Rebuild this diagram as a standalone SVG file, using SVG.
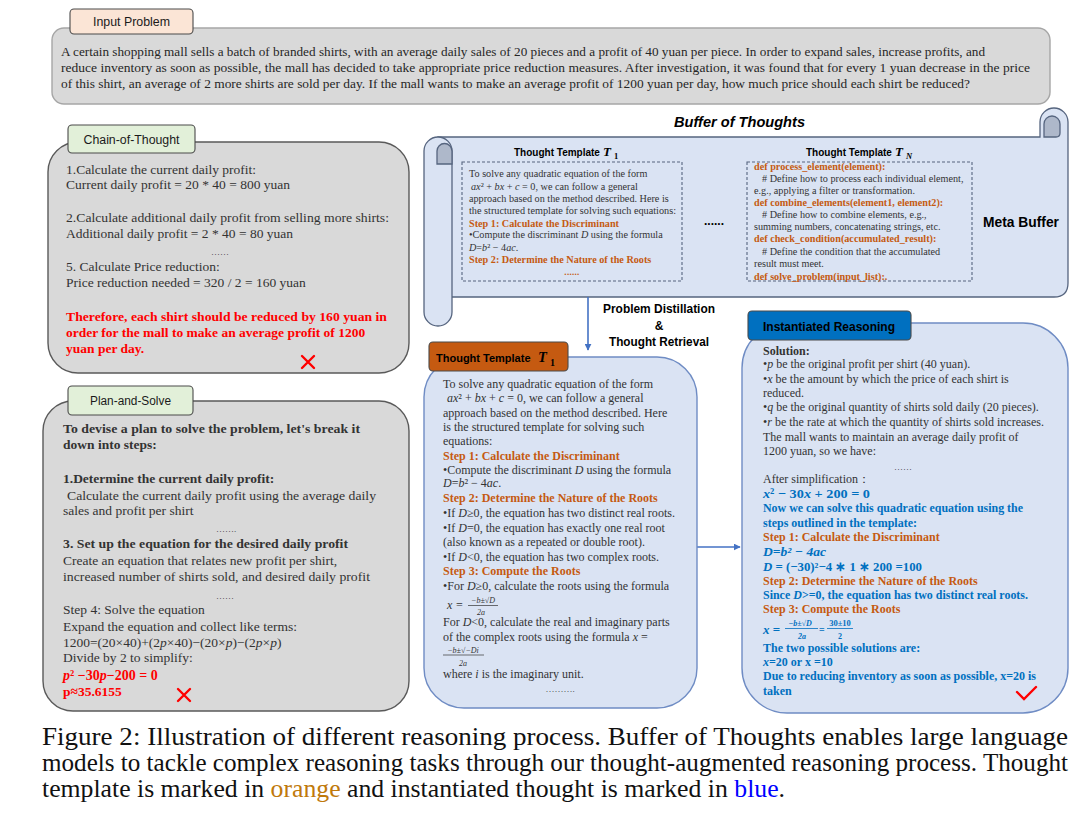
<svg xmlns="http://www.w3.org/2000/svg" width="1080" height="814" viewBox="0 0 1080 814">
<defs>
<marker id="arr" viewBox="0 0 10 10" refX="9" refY="5" markerWidth="7" markerHeight="7" markerUnits="userSpaceOnUse" orient="auto"><path d="M0,0 L10,5 L0,10 Z" fill="#4472c4"/></marker>
<style>
.sf{font-family:"Liberation Serif","Times New Roman",serif}
.ss{font-family:"Liberation Sans",Arial,sans-serif}
.gray{fill:#d9d9d9;stroke:#5a5a5a;stroke-width:1.4}
.blu{fill:#dae3f3;stroke:#6f8cc4;stroke-width:1.4}
.scr{fill:#dae3f3;stroke:#56657f;stroke-width:1.3}
.curl{fill:#aeb8ca;stroke:#56657f;stroke-width:1.3}
.tab{stroke:#4a4a4a;stroke-width:1.1}
.lab{font-family:"Liberation Sans",Arial,sans-serif;font-size:12.5px;fill:#1a1a1a}
.bd{font-family:"Liberation Sans",Arial,sans-serif;font-weight:bold;fill:#000}
.mt{font-family:"Liberation Serif","Times New Roman",serif;font-style:italic;font-weight:bold;fill:#000}
.t135{font-family:"Liberation Serif","Times New Roman",serif;font-size:13.5px;fill:#333}
.t12{font-family:"Liberation Serif","Times New Roman",serif;font-size:12px;fill:#333}
.t10{font-family:"Liberation Serif","Times New Roman",serif;font-size:10.2px;fill:#333}
.cap{font-family:"Liberation Serif","Times New Roman",serif;font-size:25px;fill:#111}
.or{fill:#c55a11;font-weight:bold}
.bl{fill:#0070c0;font-weight:bold}
.rd{fill:#ff0000;font-weight:bold}
.b{font-weight:bold}
.i{font-style:italic}
.dash{fill:none;stroke:#56657f;stroke-width:1.1;stroke-dasharray:3 2}
.conn{stroke:#4472c4;stroke-width:1.6;fill:none}
.mark{stroke:#ff0000;stroke-width:2.4;fill:none;stroke-linecap:round}
</style>
</defs>
<rect width="1080" height="814" fill="#ffffff"/>

<g id="input-problem">
<rect x="52" y="28" width="998" height="76" rx="12" fill="#d9d9d9" stroke="#a6a6a6" stroke-width="1.4"/>
<rect class="tab" x="70" y="9" width="123" height="25" rx="4" fill="#fbe5d6"/>
<text class="lab" x="131.5" y="26" text-anchor="middle" textLength="77" lengthAdjust="spacingAndGlyphs">Input Problem</text>
<text class="t135" style="fill:#262626" x="61" y="56" textLength="924" lengthAdjust="spacingAndGlyphs">A certain shopping mall sells a batch of branded shirts, with an average daily sales of 20 pieces and a profit of 40 yuan per piece. In order to expand sales, increase profits, and</text>
<text class="t135" style="fill:#262626" x="61" y="72" textLength="969" lengthAdjust="spacingAndGlyphs">reduce inventory as soon as possible, the mall has decided to take appropriate price reduction measures. After investigation, it was found that for every 1 yuan decrease in the price</text>
<text class="t135" style="fill:#262626" x="61" y="88" textLength="909" lengthAdjust="spacingAndGlyphs">of this shirt, an average of 2 more shirts are sold per day. If the mall wants to make an average profit of 1200 yuan per day, how much price should each shirt be reduced?</text>
</g>

<g id="chain-of-thought">
<rect class="gray" x="48" y="142" width="361" height="231" rx="30"/>
<rect class="tab" x="68" y="125" width="127" height="28" rx="4" fill="#e2f0d9"/>
<text class="lab" x="131.5" y="144" text-anchor="middle" textLength="96" lengthAdjust="spacingAndGlyphs">Chain-of-Thought</text>
<text class="t135" x="66" y="174">1.Calculate the current daily profit:</text>
<text class="t135" x="66" y="189">Current daily profit = 20 * 40 = 800 yuan</text>
<text class="t135" x="66" y="222" textLength="323" lengthAdjust="spacingAndGlyphs">2.Calculate additional daily profit from selling more shirts:</text>
<text class="t135" x="66" y="238">Additional daily profit = 2 * 40 = 80 yuan</text>
<text class="t135" x="220" y="255" text-anchor="middle" style="font-size:9px">……</text>
<text class="t135" x="66" y="271">5. Calculate Price reduction:</text>
<text class="t135" x="66" y="287">Price reduction needed = 320 / 2 = 160 yuan</text>
<text class="t135 rd" x="66" y="321" textLength="321" lengthAdjust="spacingAndGlyphs">Therefore, each shirt should be reduced by 160 yuan in</text>
<text class="t135 rd" x="66" y="337">order for the mall to make an average profit of 1200</text>
<text class="t135 rd" x="66" y="353">yuan per day.</text>
<path class="mark" d="M302,356 L314,368 M314,356 L302,368"/>
</g>

<g id="plan-and-solve">
<rect class="gray" x="43" y="401" width="366" height="310" rx="30"/>
<rect class="tab" x="68" y="386" width="125" height="29" rx="4" fill="#e2f0d9"/>
<text class="lab" x="130.5" y="405" text-anchor="middle" textLength="81" lengthAdjust="spacingAndGlyphs">Plan-and-Solve</text>
<text class="t135 b" x="63" y="433" textLength="297" lengthAdjust="spacingAndGlyphs">To devise a plan to solve the problem, let's break it</text>
<text class="t135 b" x="63" y="449">down into steps:</text>
<text class="t135 b" x="63" y="483">1.Determine the current daily profit:</text>
<text class="t135" x="67" y="500" textLength="309" lengthAdjust="spacingAndGlyphs">Calculate the current daily profit using the average daily</text>
<text class="t135" x="63" y="515">sales and profit per shirt</text>
<text class="t135" x="226" y="532" text-anchor="middle" style="font-size:9px">…….</text>
<text class="t135 b" x="63" y="548" textLength="285" lengthAdjust="spacingAndGlyphs">3. Set up the equation for the desired daily profit</text>
<text class="t135" x="63" y="565">Create an equation that relates new profit per shirt,</text>
<text class="t135" x="63" y="581" textLength="307" lengthAdjust="spacingAndGlyphs">increased number of shirts sold, and desired daily profit</text>
<text class="t135" x="225" y="599" text-anchor="middle" style="font-size:9px">……</text>
<text class="t135" x="63" y="614">Step 4: Solve the equation</text>
<text class="t135" x="63" y="631">Expand the equation and collect like terms:</text>
<text class="t135" x="63" y="647">1200=(20×40)+(2<tspan class="i">p</tspan>×40)−(20×<tspan class="i">p</tspan>)−(2<tspan class="i">p</tspan>×<tspan class="i">p</tspan>)</text>
<text class="t135" x="63" y="662">Divide by 2 to simplify:</text>
<text class="t135 rd" x="63" y="680" style="font-size:14px"><tspan class="i">p</tspan>² −30<tspan class="i">p</tspan>−200 = 0</text>
<text class="t135 rd" x="63" y="696">p≈35.6155</text>
<path class="mark" d="M178,689 L190,701 M190,689 L178,701"/>
</g>

<g id="buffer-of-thoughts">
<text class="bd" x="739.5" y="127" text-anchor="middle" style="font-size:15.5px;font-style:italic" textLength="131" lengthAdjust="spacingAndGlyphs">Buffer of Thoughts</text>
<path class="scr" d="M438,137 H1040 V122 A14,14 0 0 1 1068,122 V283 Q1068,297 1054,297 H452 L438,297 Z"/>
<path class="curl" d="M1044,137 V124 A8,8 0 0 1 1060,124 V133 Q1060,137 1056,137 Z"/>
<rect class="scr" x="424" y="137" width="28" height="189" rx="14"/>
<path class="curl" d="M437,164 V151 A7.5,7.5 0 0 1 452,151 V164 Z"/>
<text class="bd" x="514" y="156" style="font-size:10px">Thought Template</text>
<text class="mt" x="603" y="156" style="font-size:13px">T</text>
<text class="mt" x="614" y="159" style="font-size:8.5px;font-style:normal">1</text>
<rect class="dash" x="462" y="162" width="220" height="119"/>
<text class="t10" x="469" y="176.5">To solve any quadratic equation of the form</text>
<text class="t10" x="471" y="189.5"><tspan class="i">ax</tspan>² + <tspan class="i">bx</tspan> + <tspan class="i">c</tspan> = 0, we can follow a general</text>
<text class="t10" x="469" y="201.5">approach based on the method described. Here is</text>
<text class="t10" x="469" y="213.5" textLength="207" lengthAdjust="spacingAndGlyphs">the structured template for solving such equations:</text>
<text class="t10 or" x="469" y="226.5">Step 1: Calculate the Discriminant</text>
<text class="t10" x="469" y="237.5">•Compute the discriminant <tspan class="i">D</tspan> using the formula</text>
<text class="t10" x="469" y="250.5"><tspan class="i">D</tspan>=<tspan class="i">b</tspan>² − 4<tspan class="i">ac</tspan>.</text>
<text class="t10 or" x="469" y="262.5">Step 2: Determine the Nature of the Roots</text>
<text class="t10 or" x="572" y="275" text-anchor="middle" style="font-size:9px;letter-spacing:0.3px">......</text>
<text class="bd" x="714" y="225" text-anchor="middle" style="font-size:12px">......</text>
<text class="bd" x="806" y="156" style="font-size:10px">Thought Template</text>
<text class="mt" x="895" y="156" style="font-size:13px">T</text>
<text class="mt" x="906" y="159" style="font-size:8.5px">N</text>
<rect class="dash" x="747" y="162" width="225" height="119"/>
<text class="t10 or" x="754" y="169.5">def process_element(element):</text>
<text class="t10" x="762" y="181.5">  # Define how to process each individual element,</text>
<text class="t10" x="754" y="193.5">e.g., applying a filter or transformation.</text>
<text class="t10 or" x="754" y="205.5">def combine_elements(element1, element2):</text>
<text class="t10" x="762" y="217.5"># Define how to combine elements, e.g.,</text>
<text class="t10" x="754" y="229.5">summing numbers, concatenating strings, etc.</text>
<text class="t10 or" x="754" y="241.5">def check_condition(accumulated_result):</text>
<text class="t10" x="762" y="254.5"># Define the condition that the accumulated</text>
<text class="t10" x="754" y="266.5">result must meet.</text>
<text class="t10 or" x="754" y="280">def solve_problem(input_list):.</text>
<text class="bd" x="1021" y="227" text-anchor="middle" style="font-size:15px" textLength="76" lengthAdjust="spacingAndGlyphs">Meta Buffer</text>
</g>

<g id="connectors">
<line class="conn" x1="588" y1="297" x2="588" y2="350" marker-end="url(#arr)"/>
<line class="conn" x1="697" y1="547" x2="740" y2="547" marker-end="url(#arr)"/>
<text class="bd" x="659" y="313" text-anchor="middle" style="font-size:12px" textLength="112" lengthAdjust="spacingAndGlyphs">Problem Distillation</text>
<text class="bd" x="659" y="330" text-anchor="middle" style="font-size:12px">&amp;</text>
<text class="bd" x="659" y="346" text-anchor="middle" style="font-size:12px" textLength="100" lengthAdjust="spacingAndGlyphs">Thought Retrieval</text>
</g>

<g id="thought-template">
<rect class="blu" x="424" y="357" width="273" height="351" rx="40"/>
<rect class="tab" x="429" y="342" width="139" height="29" rx="4" fill="#c55a11" stroke="#5a2a08"/>
<text class="bd" x="436" y="362" style="font-size:11px">Thought Template</text>
<text class="mt" x="538" y="362" style="font-size:14.5px">T</text>
<text class="mt" x="550" y="365.5" style="font-size:10px;font-style:normal">1</text>
<text class="t12" x="443" y="388">To solve any quadratic equation of the form</text>
<text class="t12" x="447" y="402"><tspan class="i">ax</tspan>² + <tspan class="i">bx</tspan> + <tspan class="i">c</tspan> = 0, we can follow a general</text>
<text class="t12" x="443" y="417">approach based on the method described. Here</text>
<text class="t12" x="443" y="431">is the structured template for solving such</text>
<text class="t12" x="443" y="445">equations:</text>
<text class="t12 or" x="443" y="460">Step 1: Calculate the Discriminant</text>
<text class="t12" x="443" y="474">•Compute the discriminant <tspan class="i">D</tspan> using the formula</text>
<text class="t12" x="443" y="487"><tspan class="i">D</tspan>=<tspan class="i">b</tspan>² − 4<tspan class="i">ac</tspan>.</text>
<text class="t12 or" x="443" y="502">Step 2: Determine the Nature of the Roots</text>
<text class="t12" x="443" y="517" textLength="232" lengthAdjust="spacingAndGlyphs">•If <tspan class="i">D</tspan>≥0, the equation has two distinct real roots.</text>
<text class="t12" x="443" y="532">•If <tspan class="i">D</tspan>=0, the equation has exactly one real root</text>
<text class="t12" x="443" y="546">(also known as a repeated or double root).</text>
<text class="t12" x="443" y="561">•If <tspan class="i">D</tspan>&lt;0, the equation has two complex roots.</text>
<text class="t12 or" x="443" y="575">Step 3: Compute the Roots</text>
<text class="t12" x="443" y="590">•For <tspan class="i">D</tspan>≥0, calculate the roots using the formula</text>
<text class="t12 i" x="447" y="609">x =</text>
<text class="t12 i" x="483" y="603" text-anchor="middle" style="font-size:8px">−b±√D</text>
<line x1="468" y1="605.5" x2="498" y2="605.5" stroke="#333" stroke-width="0.7"/>
<text class="t12 i" x="481" y="615" text-anchor="middle" style="font-size:8px">2a</text>
<text class="t12" x="443" y="626">For <tspan class="i">D</tspan>&lt;0, calculate the real and imaginary parts</text>
<text class="t12" x="443" y="641">of the complex roots using the formula  <tspan class="i">x</tspan> =</text>
<text class="t12 i" x="463" y="652.5" text-anchor="middle" style="font-size:8px">−b±√−Di</text>
<line x1="443" y1="655" x2="484" y2="655" stroke="#333" stroke-width="0.7"/>
<text class="t12 i" x="463" y="666" text-anchor="middle" style="font-size:8px">2a</text>
<text class="t12" x="443" y="678">where <tspan class="i">i</tspan> is the imaginary unit.</text>
<text class="t12" x="560" y="692" text-anchor="middle" style="font-size:9px">……….</text>
</g>

<g id="instantiated-reasoning">
<rect class="blu" x="742" y="323" width="326" height="390" rx="45"/>
<rect class="tab" x="748" y="311" width="163" height="29" rx="4" fill="#0070c0" stroke="#1f3864"/>
<text class="bd" x="763" y="331" style="font-size:12.5px" textLength="132" lengthAdjust="spacingAndGlyphs">Instantiated Reasoning</text>
<text class="t12 b" x="763" y="355">Solution:</text>
<text class="t12" x="763" y="368">•<tspan class="i">p</tspan> be the original profit per shirt (40 yuan).</text>
<text class="t12" x="763" y="383">•<tspan class="i">x</tspan> be the amount by which the price of each shirt is</text>
<text class="t12" x="763" y="397">reduced.</text>
<text class="t12" x="763" y="411">•<tspan class="i">q</tspan> be the original quantity of shirts sold daily (20 pieces).</text>
<text class="t12" x="763" y="426" textLength="281" lengthAdjust="spacingAndGlyphs">•<tspan class="i">r</tspan> be the rate at which the quantity of shirts sold increases.</text>
<text class="t12" x="763" y="441">The mall wants to maintain an average daily profit of</text>
<text class="t12" x="763" y="455">1200 yuan, so we have:</text>
<text class="t12" x="903" y="470" text-anchor="middle" style="font-size:9px">……</text>
<text class="t12" x="763" y="483">After simplification：</text>
<text class="t12 bl" x="763" y="498" style="font-size:13.5px" textLength="107" lengthAdjust="spacingAndGlyphs"><tspan class="i">x</tspan>² − 30<tspan class="i">x</tspan> + 200 = 0</text>
<text class="t12 bl" x="763" y="512" textLength="260" lengthAdjust="spacingAndGlyphs">Now we can solve this quadratic equation using the</text>
<text class="t12 bl" x="763" y="527">steps outlined in the template:</text>
<text class="t12 or" x="763" y="541">Step 1: Calculate the Discriminant</text>
<text class="t12 bl i" x="763" y="556" style="font-size:13px" textLength="63" lengthAdjust="spacingAndGlyphs">D=b² − 4ac</text>
<text class="t12 bl" x="763" y="571" style="font-size:13px" textLength="159" lengthAdjust="spacingAndGlyphs"><tspan class="i">D</tspan> = (−30)²−4 ∗ 1 ∗ 200 =100</text>
<text class="t12 or" x="763" y="585">Step 2: Determine the Nature of the Roots</text>
<text class="t12 bl" x="763" y="599" textLength="265" lengthAdjust="spacingAndGlyphs">Since <tspan class="i">D</tspan>&gt;=0, the equation has two distinct real roots.</text>
<text class="t12 or" x="763" y="613">Step 3: Compute the Roots</text>
<text class="t12 bl" x="763" y="634" style="font-size:13px"><tspan class="i">x</tspan> =</text>
<text class="t12 bl i" x="800" y="626" text-anchor="middle" style="font-size:8px">−b±√D</text>
<line x1="785" y1="628.5" x2="818" y2="628.5" stroke="#0070c0" stroke-width="0.8"/>
<text class="t12 bl i" x="802" y="639" text-anchor="middle" style="font-size:8px">2a</text>
<text class="t12 bl" x="819" y="633" style="font-size:10px">=</text>
<text class="t12 bl" x="840" y="626" text-anchor="middle" style="font-size:8.5px">30±10</text>
<line x1="827" y1="628.5" x2="853" y2="628.5" stroke="#0070c0" stroke-width="0.8"/>
<text class="t12 bl" x="840" y="639" text-anchor="middle" style="font-size:8px">2</text>
<text class="t12 bl" x="763" y="652">The two possible solutions are:</text>
<text class="t12 bl" x="763" y="666"><tspan class="i">x</tspan>=20 or x =10</text>
<text class="t12 bl" x="763" y="680" textLength="273" lengthAdjust="spacingAndGlyphs">Due to reducing inventory as soon as possible, x=20 is</text>
<text class="t12 bl" x="763" y="695">taken</text>
<path class="mark" d="M1017,692 L1024,699 L1036,687"/>
</g>

<g id="caption">
<text class="cap" x="42" y="745" textLength="1026" lengthAdjust="spacingAndGlyphs">Figure 2: Illustration of different reasoning process.  Buffer of Thoughts enables large language</text>
<text class="cap" x="42" y="771" textLength="1026" lengthAdjust="spacingAndGlyphs">models to tackle complex reasoning tasks through our thought-augmented reasoning process. Thought</text>
<text class="cap" x="42" y="797" textLength="743" lengthAdjust="spacingAndGlyphs">template is marked in <tspan fill="#c0790b">orange</tspan> and instantiated thought is marked in <tspan fill="#0000ff">blue</tspan>.</text>
</g>
</svg>
